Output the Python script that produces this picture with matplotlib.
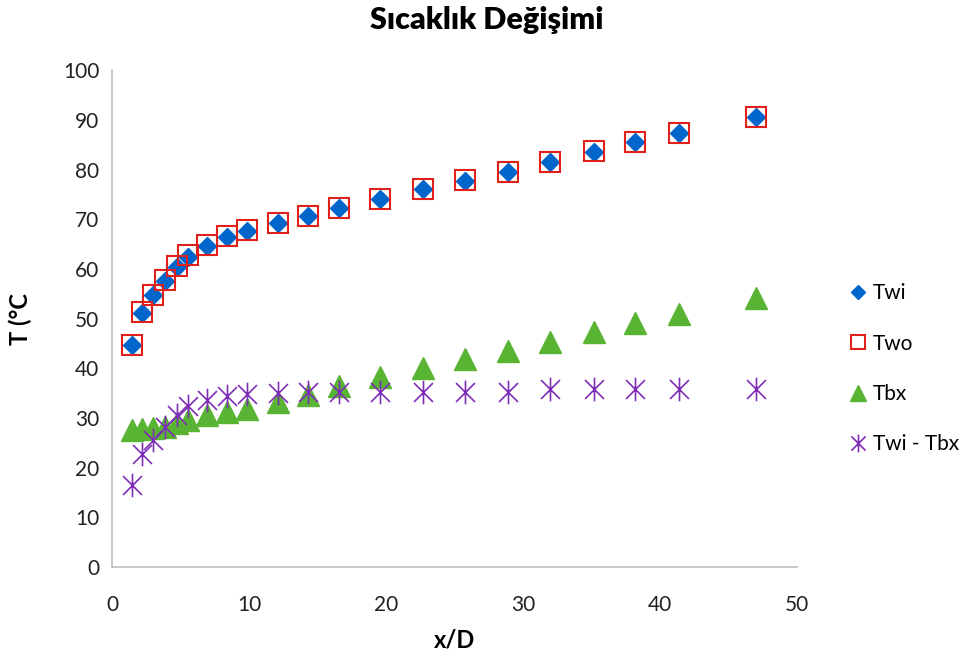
import matplotlib
matplotlib.use("Agg")
import matplotlib.pyplot as plt
from matplotlib.path import Path

plt.rcParams['font.family'] = ['Lato', 'DejaVu Sans']

# x/D konumlari
x_d = [1.44, 2.21, 3.01, 3.87, 4.72, 5.57, 6.97, 8.38, 9.85, 12.1, 14.3,
       16.6, 19.6, 22.7, 25.8, 28.9, 32.0, 35.2, 38.2, 41.4, 47.0]

# sicakliklar (°C)
twi = [44.6, 51.2, 54.7, 57.6, 60.3, 62.4, 64.7, 66.5, 67.7, 69.2, 70.6,
       72.2, 74.0, 76.0, 77.7, 79.5, 81.5, 83.6, 85.5, 87.3, 90.5]
two = [44.6, 51.3, 54.8, 57.7, 60.6, 62.8, 64.9, 66.7, 67.9, 69.3, 70.7,
       72.3, 74.1, 76.1, 77.8, 79.6, 81.6, 83.7, 85.6, 87.4, 90.6]
tbx = [27.5, 27.7, 28.0, 28.2, 29.0, 29.7, 30.6, 31.2, 31.9, 33.3, 34.6,
       36.5, 38.3, 40.0, 41.9, 43.5, 45.3, 47.3, 49.1, 50.9, 54.2]
fark = [16.6, 22.7, 25.6, 28.2, 30.6, 32.4, 33.6, 34.4, 34.9, 35.1, 35.3,
        35.3, 35.3, 35.3, 35.3, 35.3, 35.8, 35.8, 35.8, 35.8, 35.8]

# Excel tarzi yildiz: X + dikey cizgi
star = Path([(-1, -1), (1, 1), (-1, 1), (1, -1), (0, -1.25), (0, 1.25)],
            [Path.MOVETO, Path.LINETO, Path.MOVETO, Path.LINETO, Path.MOVETO, Path.LINETO])

fig = plt.figure(figsize=(9.74, 6.68), dpi=100)
ax = fig.add_axes([0.115, 0.151, 0.703, 0.744])

ax.plot(x_d, twi, ls='none', marker='D', ms=9.2, color='#0066CC', mec='#0066CC', label='Twi')
ax.plot(x_d, two, ls='none', marker='s', ms=14, mfc='none', mec='#E0201B', mew=1.5, label='Two')
ax.plot(x_d, tbx, ls='none', marker='^', ms=16, color='#58B432', mec='#58B432', label='Tbx')
ax.plot(x_d, fark, ls='none', marker=star, ms=17, mfc='none', mec='#7E2DB8', mew=1.2, label='Twi - Tbx')

ax.set_xlim(0, 50)
ax.set_ylim(0, 100)
ax.set_xticks(range(0, 51, 10))
ax.set_yticks(range(0, 101, 10))
ax.tick_params(axis='both', length=0, labelsize=15, colors='#222222')
ax.tick_params(axis='x', pad=20)
ax.tick_params(axis='y', pad=9)

for s in ['top', 'right']:
    ax.spines[s].set_visible(False)
for s in ['left', 'bottom']:
    ax.spines[s].set_color('#BFBFBF')
    ax.spines[s].set_linewidth(1.2)

ax.set_xlabel('x/D', fontsize=17, fontweight='bold', va='center')
ax.xaxis.set_label_coords(0.5, -0.147)
ax.set_ylabel('T (°C', fontsize=17, fontweight='bold', va='center')
ax.yaxis.set_label_coords(-0.134, 0.5)

fig.text(0.5, 1 - 20 / 668, 'Sıcaklık Değişimi', ha='center', va='center',
         fontsize=22, fontweight='heavy')

fig.legend(loc='center left', bbox_to_anchor=(0.8727, 0.448), frameon=False,
           fontsize=15, markerscale=0.75, handlelength=0.8, handletextpad=0.3,
           labelspacing=1.45, borderpad=0, borderaxespad=0)

fig.savefig('out.png', dpi=100)
